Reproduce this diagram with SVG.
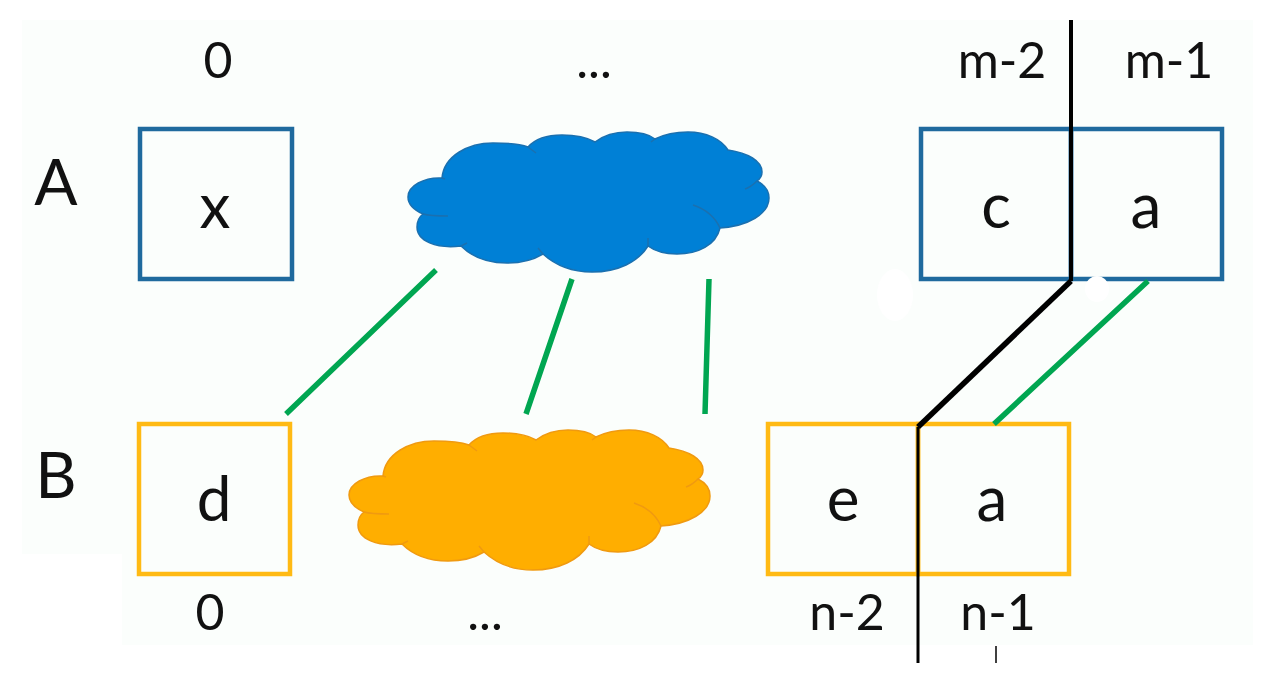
<svg xmlns="http://www.w3.org/2000/svg" width="1280" height="679" viewBox="0 0 1280 679">
<style>
text{font-family:"Lato","Open Sans",sans-serif;fill:#111;text-anchor:middle}
.idx{font-size:50px}
.big{font-size:64px}
.val{font-size:62px}
.box{fill:none;stroke-width:4.5}
.blue{stroke:#1f6a9e}
.org{stroke:#ffba14}
.green{stroke:#00a651;stroke-width:5.5;fill:none}
.black{stroke:#000;fill:none;stroke-linejoin:round}
.cb{fill:#0080d6;stroke:#1a70b0}
.co{fill:#ffae00;stroke:#f09a10}
.fold{fill:none;stroke-width:1.5}
</style>
<defs>
<g id="cloud">
<path stroke-width="1.5" d="M442 178C444 156 468 143 493 143C507 143 520 144 528 147C536 138 550 135 562 135C576 135 588 138 595 142C603 136 615 132 627 132C640 132 650 135 655 139C663 135 675 132 688 132C706 132 721 139 728 150C748 153 762 161 762 172C762 176 760 179 757 181C765 185 769 191 769 198C769 214 748 226 720 228C716 245 698 254 677 254C667 254 656 252 648 246C638 262 618 272 592 272C572 272 555 265 543 254C533 260 520 263 507 263C488 263 472 257 461 246C436 249 417 241 417 227C417 222 419 217 423 214C414 210 408 204 408 197C408 186 424 177 442 178Z"/>
<path class="fold" d="M442 178L445 179M528 147L536 153M655 139L651 142M757 181C752 186 748 188 745 189M423 214C430 216 440 216 448 216M693 205C705 209 715 217 720 228M461 246L467 243M648 246L648 238M543 254L538 248"/>
</g>
</defs>
<rect x="22" y="20" width="1231" height="534" fill="#fbfefc"/>
<rect x="122" y="554" width="1131" height="91" fill="#fbfefc"/>

<g id="label-A"><text x="56" y="205" class="big">A</text></g>
<g id="label-B"><text x="56" y="498" class="big">B</text></g>

<g id="top-indices">
<text x="218" y="78" class="idx">0</text>
<text x="594" y="78" class="idx">...</text>
<text x="1002" y="78" class="idx">m-2</text>
<text x="1169" y="78" class="idx">m-1</text>
</g>
<g id="bottom-indices">
<text x="210" y="630" class="idx">0</text>
<text x="485" y="630" class="idx">...</text>
<text x="847" y="630" class="idx">n-2</text>
<text x="998" y="630" class="idx">n-1</text>
</g>

<g id="node-x">
<rect class="box blue" x="140" y="129" width="152" height="150"/>
<text x="215" y="228" class="val">x</text>
</g>
<g id="cloud-A" class="cb"><use href="#cloud"/></g>
<g id="node-c">
<rect class="box blue" x="921" y="129" width="150" height="150"/>
<text x="996" y="228" class="val">c</text>
</g>
<g id="node-a-top">
<rect class="box blue" x="1071" y="129" width="151" height="150"/>
<text x="1146" y="228" class="val">a</text>
</g>
<g id="node-d">
<rect class="box org" x="139" y="424" width="151" height="150"/>
<text x="214" y="521" class="val">d</text>
</g>
<g id="cloud-B" class="co"><use href="#cloud" transform="translate(-59 298)"/></g>
<g id="node-e">
<rect class="box org" x="768" y="424" width="150" height="150"/>
<text x="843" y="521" class="val">e</text>
</g>
<g id="node-a-bottom">
<rect class="box org" x="918" y="424" width="151" height="150"/>
<text x="992" y="521" class="val">a</text>
</g>

<ellipse cx="895" cy="295" rx="18" ry="26" fill="#fff"/>
<ellipse cx="1097" cy="289" rx="12" ry="13" fill="#fff"/>

<g id="connectors">
<path class="green" d="M436 270L286 414M572 279L526 414M709 279L705 414M1148 281L994 424"/>
</g>

<g id="overlay-lines">
<path class="black" stroke-width="4" d="M1071 20V281"/>
<path class="black" stroke-width="5.5" d="M1071 281L918 427"/>
<path class="black" stroke-width="3" d="M918 427V663"/>
<path class="black" stroke-width="1.5" d="M996 646V663"/>
</g>
</svg>
